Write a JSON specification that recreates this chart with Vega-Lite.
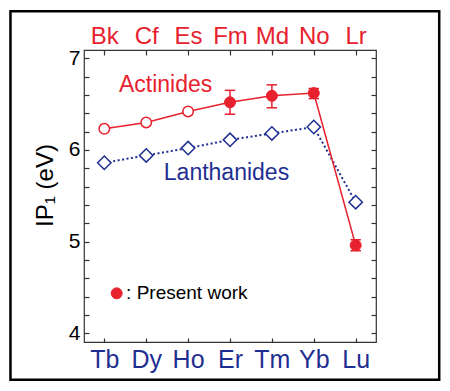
{
  "$schema": "https://vega.github.io/schema/vega-lite/v6.json",
  "width": 292,
  "height": 292,
  "autosize": {"type": "none"},
  "padding": {"left": 84, "top": 50, "right": 74, "bottom": 49},
  "background": "white",
  "config": {
    "view": {"stroke": "#333333", "strokeWidth": 1.2},
    "font": "Liberation Sans",
    "axis": {"grid": false, "domain": false, "tickColor": "#333333", "tickWidth": 1.2, "labelFont": "Liberation Sans", "titleFont": "Liberation Sans", "labelOverlap": false, "labelBound": false, "labelFlush": false}
  },
  "datasets": {
    "act": [
      {"el": "Bk", "i": 0, "ip": 6.23, "src": "Literature"},
      {"el": "Cf", "i": 1, "ip": 6.30, "src": "Literature"},
      {"el": "Es", "i": 2, "ip": 6.42, "src": "Literature"},
      {"el": "Fm", "i": 3, "ip": 6.52, "lo": 6.39, "hi": 6.65, "src": "Present work"},
      {"el": "Md", "i": 4, "ip": 6.59, "lo": 6.46, "hi": 6.71, "src": "Present work"},
      {"el": "No", "i": 5, "ip": 6.62, "lo": 6.56, "hi": 6.67, "src": "Present work"},
      {"el": "Lr", "i": 6, "ip": 4.96, "lo": 4.90, "hi": 5.02, "src": "Present work"}
    ],
    "lan": [
      {"el": "Tb", "i": 0, "ip": 5.86},
      {"el": "Dy", "i": 1, "ip": 5.94},
      {"el": "Ho", "i": 2, "ip": 6.02},
      {"el": "Er", "i": 3, "ip": 6.11},
      {"el": "Tm", "i": 4, "ip": 6.18},
      {"el": "Yb", "i": 5, "ip": 6.25},
      {"el": "Lu", "i": 6, "ip": 5.43}
    ]
  },
  "resolve": {"axis": {"x": "independent", "y": "independent"}},
  "layer": [
    {
      "data": {"values": [{}]},
      "mark": {"type": "rect", "filled": false, "stroke": "black", "strokeWidth": 2.5},
      "encoding": {
        "x": {"datum": -2.24, "type": "quantitative", "scale": {"domain": [-0.485, 6.485], "nice": false, "zero": false}, "axis": null},
        "x2": {"datum": 7.994},
        "y": {"datum": 7.512, "type": "quantitative", "scale": {"domain": [3.905, 7.09], "nice": false, "zero": false}, "axis": null},
        "y2": {"datum": 3.494}
      }
    },
    {
      "data": {"name": "lan"},
      "mark": {"type": "line", "color": "#1f2f91", "strokeWidth": 2, "strokeDash": [2, 2.5]},
      "encoding": {
        "x": {"field": "i", "type": "quantitative", "scale": {"domain": [-0.485, 6.485], "nice": false, "zero": false},
          "axis": {"orient": "bottom", "values": [0, 1, 2, 3, 4, 5, 6], "labelExpr": "['Tb','Dy','Ho','Er','Tm','Yb','Lu'][datum.value]", "labelColor": "#1f2f91", "labelFontSize": 25, "tickSize": -4, "labelPadding": 9, "title": null}},
        "y": {"field": "ip", "type": "quantitative", "scale": {"domain": [3.905, 7.09], "nice": false, "zero": false},
          "axis": {"orient": "left", "values": [4, 4.2, 4.4, 4.6, 4.8, 5, 5.2, 5.4, 5.6, 5.8, 6, 6.2, 6.4, 6.6, 6.8, 7], "labelExpr": "datum.value % 1 === 0 ? '' + datum.value : ''", "labelColor": "black", "labelFontSize": 21, "tickSize": -5, "labelPadding": 9,
            "title": "IP₁ (eV)", "titleFontSize": 24, "titleFontWeight": "normal", "titleColor": "black", "titleAngle": -90, "titleX": -31.3, "titleY": 135, "titleAlign": "center", "titleBaseline": "alphabetic"}}
      }
    },
    {
      "data": {"name": "act"},
      "mark": {"type": "line", "color": "#e8212e", "strokeWidth": 1.5},
      "encoding": {
        "x": {"field": "i", "type": "quantitative", "scale": {"domain": [-0.485, 6.485], "nice": false, "zero": false},
          "axis": {"orient": "top", "values": [0, 1, 2, 3, 4, 5, 6], "labelExpr": "['Bk','Cf','Es','Fm','Md','No','Lr'][datum.value]", "labelColor": "#e8212e", "labelFontSize": 24, "tickSize": -5, "labelPadding": 6.2, "title": null}},
        "y": {"field": "ip", "type": "quantitative", "scale": {"domain": [3.905, 7.09], "nice": false, "zero": false},
          "axis": {"orient": "right", "values": [4, 4.2, 4.4, 4.6, 4.8, 5, 5.2, 5.4, 5.6, 5.8, 6, 6.2, 6.4, 6.6, 6.8, 7], "labels": false, "tickSize": -5, "title": null}}
      }
    },
    {
      "data": {"name": "act"},
      "transform": [{"filter": "isValid(datum.lo)"}],
      "mark": {"type": "rule", "color": "#e8212e", "strokeWidth": 1.5},
      "encoding": {
        "x": {"field": "i", "type": "quantitative", "scale": {"domain": [-0.485, 6.485], "nice": false, "zero": false}, "axis": null},
        "y": {"field": "lo", "type": "quantitative", "scale": {"domain": [3.905, 7.09], "nice": false, "zero": false}, "axis": null},
        "y2": {"field": "hi"}
      }
    },
    {
      "data": {"name": "act"},
      "transform": [{"filter": "isValid(datum.lo)"}, {"fold": ["lo", "hi"], "as": ["end", "v"]}],
      "mark": {"type": "point", "shape": "M-1,0L1,0", "size": 110, "filled": false, "stroke": "#e8212e", "strokeWidth": 1.5, "opacity": 1},
      "encoding": {
        "x": {"field": "i", "type": "quantitative", "scale": {"domain": [-0.485, 6.485], "nice": false, "zero": false}, "axis": null},
        "y": {"field": "v", "type": "quantitative", "scale": {"domain": [3.905, 7.09], "nice": false, "zero": false}, "axis": null}
      }
    },
    {
      "data": {"name": "lan"},
      "mark": {"type": "point", "shape": "diamond", "size": 180, "fill": "white", "stroke": "#1f2f91", "strokeWidth": 1.5, "opacity": 1},
      "encoding": {
        "x": {"field": "i", "type": "quantitative", "scale": {"domain": [-0.485, 6.485], "nice": false, "zero": false}, "axis": null},
        "y": {"field": "ip", "type": "quantitative", "scale": {"domain": [3.905, 7.09], "nice": false, "zero": false}, "axis": null}
      }
    },
    {
      "data": {"name": "act"},
      "transform": [{"filter": "datum.src === 'Literature'"}],
      "mark": {"type": "point", "shape": "circle", "size": 110, "fill": "white", "stroke": "#e8212e", "strokeWidth": 1.5, "opacity": 1},
      "encoding": {
        "x": {"field": "i", "type": "quantitative", "scale": {"domain": [-0.485, 6.485], "nice": false, "zero": false}, "axis": null},
        "y": {"field": "ip", "type": "quantitative", "scale": {"domain": [3.905, 7.09], "nice": false, "zero": false}, "axis": null}
      }
    },
    {
      "data": {"name": "act"},
      "transform": [{"filter": "datum.src === 'Present work'"}],
      "mark": {"type": "point", "shape": "circle", "size": 120, "filled": true, "fill": "#e8212e", "stroke": "#e8212e", "strokeWidth": 1, "opacity": 1},
      "encoding": {
        "x": {"field": "i", "type": "quantitative", "scale": {"domain": [-0.485, 6.485], "nice": false, "zero": false}, "axis": null},
        "y": {"field": "ip", "type": "quantitative", "scale": {"domain": [3.905, 7.09], "nice": false, "zero": false}, "axis": null}
      }
    },
    {
      "data": {"values": [{}]},
      "mark": {"type": "text", "text": "Actinides", "color": "#e8212e", "fontSize": 23, "align": "left", "baseline": "alphabetic", "font": "Liberation Sans"},
      "encoding": {
        "x": {"datum": 0.35, "type": "quantitative", "scale": {"domain": [-0.485, 6.485], "nice": false, "zero": false}, "axis": null},
        "y": {"datum": 6.627, "type": "quantitative", "scale": {"domain": [3.905, 7.09], "nice": false, "zero": false}, "axis": null}
      }
    },
    {
      "data": {"values": [{}]},
      "mark": {"type": "text", "text": "Lanthanides", "color": "#1f2f91", "fontSize": 23, "align": "left", "baseline": "alphabetic", "font": "Liberation Sans"},
      "encoding": {
        "x": {"datum": 1.42, "type": "quantitative", "scale": {"domain": [-0.485, 6.485], "nice": false, "zero": false}, "axis": null},
        "y": {"datum": 5.672, "type": "quantitative", "scale": {"domain": [3.905, 7.09], "nice": false, "zero": false}, "axis": null}
      }
    },
    {
      "data": {"values": [{}]},
      "mark": {"type": "point", "shape": "circle", "size": 120, "filled": true, "fill": "#e8212e", "stroke": "#e8212e", "strokeWidth": 1, "opacity": 1},
      "encoding": {
        "x": {"datum": 0.295, "type": "quantitative", "scale": {"domain": [-0.485, 6.485], "nice": false, "zero": false}, "axis": null},
        "y": {"datum": 4.436, "type": "quantitative", "scale": {"domain": [3.905, 7.09], "nice": false, "zero": false}, "axis": null}
      }
    },
    {
      "data": {"values": [{}]},
      "mark": {"type": "text", "text": ": Present work", "color": "black", "fontSize": 19, "align": "left", "baseline": "alphabetic", "font": "Liberation Sans"},
      "encoding": {
        "x": {"datum": 0.52, "type": "quantitative", "scale": {"domain": [-0.485, 6.485], "nice": false, "zero": false}, "axis": null},
        "y": {"datum": 4.374, "type": "quantitative", "scale": {"domain": [3.905, 7.09], "nice": false, "zero": false}, "axis": null}
      }
    }
  ]
}
